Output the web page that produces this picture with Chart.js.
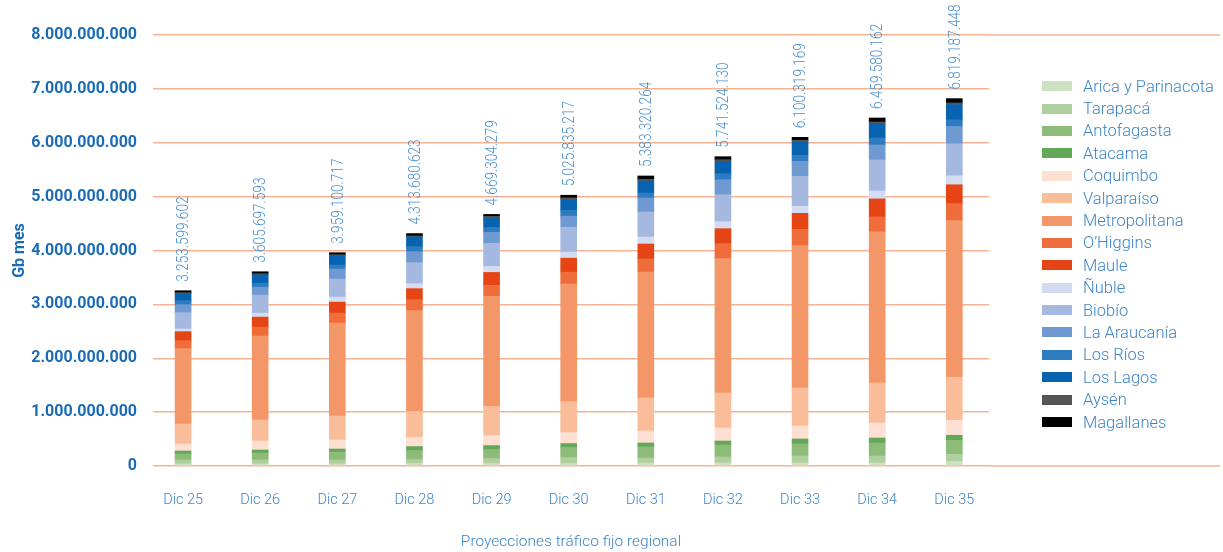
<!DOCTYPE html>
<html lang="es">
<head>
  <meta charset="UTF-8">
  <title>Proyecciones tráfico fijo regional</title>
  <script src="https://cdn.jsdelivr.net/npm/chart.js"></script>
  <style>
    body { margin: 0; background: #fff; }
    .wrap { position: relative; width: 1223px; height: 552px; }
    #leyenda {
      position: absolute; left: 1042px; top: 75px;
      font: 300 16.5px Roboto, sans-serif; color: #3d85c8;
    }
    #leyenda div { height: 22.4px; display: flex; align-items: center; white-space: nowrap; }
    #leyenda span { display: inline-block; width: 30px; height: 10px; margin-right: 11px; }
  </style>
</head>
<body>
  <div class="wrap">
    <canvas id="grafico"></canvas>
    <div id="leyenda"></div>
  </div>
  <script>
    const categorias = ['Dic 25', 'Dic 26', 'Dic 27', 'Dic 28', 'Dic 29', 'Dic 30', 'Dic 31', 'Dic 32', 'Dic 33', 'Dic 34', 'Dic 35'];

    // totales anuales (Gb mes)
    const totales = [3253599602, 3605697593, 3959100717, 4313680623, 4669304279, 5025835217,
      5383320264, 5741524130, 6100319169, 6459580162, 6819187448];

    // tráfico por región, en millones de Gb mes
    const arica = [37, 37, 37, 46, 46, 46, 56, 56, 56, 56, 87];
    const tarapaca = [74, 74, 74, 74, 93, 111, 93, 111, 130, 130, 130];
    const antofagasta = [111, 130, 148, 167, 167, 186, 204, 223, 223, 241, 260];
    const atacama = [56, 56, 56, 74, 74, 74, 74, 74, 93, 93, 93];
    const coquimbo = [130, 167, 167, 167, 186, 204, 223, 241, 241, 278, 278];
    const valparaiso = [371, 390, 445, 483, 538, 575, 612, 650, 705, 742, 800];
    const metropolitana = [1399.6, 1556.7, 1725.1, 1872.7, 2044.3, 2178.8, 2339.3, 2494.5, 2648.3, 2805.6, 2907.2];
    const ohiggins = [148, 167, 186, 204, 204, 223, 241, 278, 297, 278, 315];
    const maule = [167, 186, 204, 204, 241, 260, 278, 278, 297, 334, 350];
    const nuble = [50, 74, 93, 93, 111, 111, 130, 130, 130, 148, 167];
    const biobio = [303, 334, 334, 390, 427, 464, 464, 501, 557, 575, 594];
    const araucania = [148, 148, 186, 204, 204, 204, 260, 278, 278, 278, 320];
    const losRios = [74, 69, 74, 93, 93, 111, 93, 111, 111, 130, 124];
    const losLagos = [135, 161, 180, 180, 167, 198, 223, 223, 241, 260, 284];
    const aysen = [13, 19, 13, 19, 37, 30, 32, 37, 37, 37, 30];
    const magallanes = [37, 37, 37, 43, 37, 50, 61, 56, 56, 74, 80];

    const regiones = [
      ['Arica y Parinacota', arica, '#cbe1c2'],
      ['Tarapacá', tarapaca, '#afcf9f'],
      ['Antofagasta', antofagasta, '#8dbb78'],
      ['Atacama', atacama, '#63a858'],
      ['Coquimbo', coquimbo, '#fde0d1'],
      ['Valparaíso', valparaiso, '#f9bd9a'],
      ['Metropolitana', metropolitana, '#f39769'],
      ['O’Higgins', ohiggins, '#ef6d3b'],
      ['Maule', maule, '#e54415'],
      ['Ñuble', nuble, '#d3dcf1'],
      ['Biobío', biobio, '#a4b8e0'],
      ['La Araucanía', araucania, '#6f99d1'],
      ['Los Ríos', losRios, '#2d7bc1'],
      ['Los Lagos', losLagos, '#0763b0'],
      ['Aysén', aysen, '#555555'],
      ['Magallanes', magallanes, '#000000']
    ];

    const puntos = n => String(n).replace(/\B(?=(\d{3})+(?!\d))/g, '.');
    const lineaGrid = '#f5b394';

    // totales escritos en vertical sobre cada barra (letra algo estrecha)
    const etiquetasTotales = {
      id: 'etiquetasTotales',
      afterDatasetsDraw(chart) {
        const ctx = chart.ctx;
        const tope = chart.getDatasetMeta(chart.data.datasets.length - 1);
        ctx.save();
        ctx.fillStyle = '#4d8fcf';
        ctx.font = '300 17px Roboto, sans-serif';
        ctx.textAlign = 'left';
        ctx.textBaseline = 'middle';
        tope.data.forEach((bar, i) => {
          ctx.save();
          ctx.translate(bar.x + 1, bar.y - 9);
          ctx.rotate(-Math.PI / 2);
          ctx.scale(0.8, 1);
          ctx.fillText(puntos(totales[i]), 0, 0);
          ctx.restore();
        });
        ctx.restore();
      }
    };

    // las líneas de 0 y del máximo siguen hasta el borde derecho
    const lineasLargas = {
      id: 'lineasLargas',
      beforeDatasetsDraw(chart) {
        const { ctx, chartArea, scales } = chart;
        ctx.save();
        ctx.strokeStyle = lineaGrid;
        ctx.lineWidth = 1.5;
        [scales.y.min, scales.y.max].forEach(v => {
          const y = scales.y.getPixelForValue(v);
          ctx.beginPath();
          ctx.moveTo(chartArea.right, y);
          ctx.lineTo(chart.width - 3, y);
          ctx.stroke();
        });
        ctx.restore();
      }
    };

    new Chart(document.getElementById('grafico'), {
      type: 'bar',
      data: {
        labels: categorias.map((c, i) => i),
        datasets: regiones.map(([nombre, valores, color]) => ({
          label: nombre,
          data: valores.map(v => v * 1e6),
          backgroundColor: color,
          borderWidth: 0,
          barThickness: 16
        }))
      },
      options: {
        responsive: true,
        maintainAspectRatio: false,
        animation: false,
        layout: { padding: { top: 35, right: 234, bottom: 0, left: 0 } },
        plugins: {
          legend: { display: false },
          tooltip: { enabled: false }
        },
        scales: {
          x: {
            type: 'linear',
            stacked: true,
            offset: false,
            min: -0.39,
            max: 10.45,
            grid: { display: false },
            border: { display: false },
            ticks: {
              stepSize: 1,
              includeBounds: false,
              padding: 18,
              color: '#3d85c8',
              font: { family: 'Roboto, sans-serif', size: 14.5, weight: 300 },
              callback: v => categorias[v] ?? ''
            },
            title: {
              display: true,
              text: 'Proyecciones tráfico fijo regional',
              color: '#3d85c8',
              font: { family: 'Roboto, sans-serif', size: 15.5, weight: 300 },
              padding: { top: 0, bottom: 1 }
            },
            afterFit: s => { s.height = 86; }
          },
          y: {
            stacked: true,
            min: 0,
            max: 8e9,
            grid: { color: lineaGrid, lineWidth: 1.5, drawTicks: false },
            border: { display: false },
            ticks: {
              stepSize: 1e9,
              padding: 16,
              color: '#1a6bb5',
              font: { family: 'Roboto, sans-serif', size: 16, weight: 'bold' },
              callback: v => puntos(v)
            },
            title: {
              display: true,
              text: 'Gb mes',
              color: '#1a6bb5',
              font: { family: 'Roboto, sans-serif', size: 16, weight: 'bold' },
              padding: { top: 10, bottom: 0 }
            },
            afterFit: s => { s.width = 153; }
          }
        }
      },
      plugins: [lineasLargas, etiquetasTotales]
    });

    const leyenda = document.getElementById('leyenda');
    regiones.forEach(([nombre, , color]) => {
      const fila = document.createElement('div');
      const caja = document.createElement('span');
      caja.style.background = color;
      fila.appendChild(caja);
      fila.appendChild(document.createTextNode(nombre));
      leyenda.appendChild(fila);
    });
  </script>
</body>
</html>
